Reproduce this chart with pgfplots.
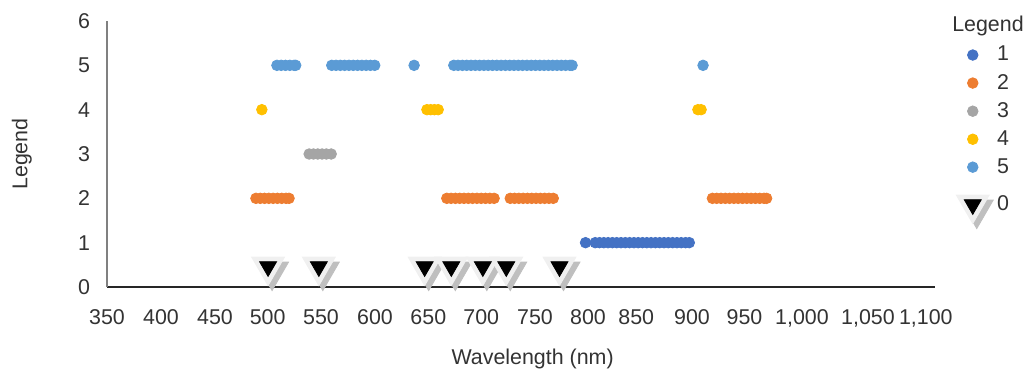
\documentclass[border=0pt]{standalone}
\usepackage{pgfplots}
\pgfplotsset{compat=1.18}
\usepackage{fontspec}
\setmainfont{Liberation Sans}
\definecolor{sA}{HTML}{4472C4}
\definecolor{sB}{HTML}{ED7D31}
\definecolor{sC}{HTML}{A5A5A5}
\definecolor{sD}{HTML}{FFC000}
\definecolor{sE}{HTML}{5B9BD5}
\definecolor{txt}{HTML}{333333}
\begin{document}
\begin{tikzpicture}[font=\fontsize{10.7}{12.8}\selectfont]
\path[use as bounding box] (-53.5pt,-41.5pt) rectangle (459.5pt,143.5pt);
\begin{axis}[
  at={(0,0)}, anchor=south west,
  scale only axis, width=414pt, height=133pt,
  xmin=350, xmax=1120, ymin=0, ymax=6,
  xtick={350,400.2,450.4,499.4,549,599.2,648.8,698,748,797.3,842.2,894,942.8,996.3,1057.7,1111.5},
  xticklabels={350,400,450,500,550,600,650,700,750,800,850,900,950,{1,000},{1,050},{1,100}},
  ytick={0,1,...,6},
  axis x line=bottom, axis y line=left,
  x axis line style={-, black!85, line width=0.6pt},
  y axis line style={-, gray, line width=0.6pt},
  tick style={draw=none}, major tick length=0pt,
  scaled x ticks=false,
  /pgf/number format/assume math mode=true,
  xticklabel style={yshift=-7.5pt, text=txt},
  yticklabel style={xshift=-5pt, text=txt},
  xlabel={Wavelength (nm)}, ylabel={Legend},
  xlabel style={at={(axis description cs:0.514,0)}, anchor=center, yshift=-36pt, text=txt},
  ylabel style={at={(axis description cs:-0.1027,0.5)}, anchor=center, text=txt},
  clip=false,
  legend style={at={(1.018,0.937)}, anchor=north west, draw=none, fill=none,
    row sep=1.1pt, text=txt, font=\fontsize{10.7}{12.8}\selectfont},
  legend cell align=left,
]
% series 1
\addplot[only marks, mark=*, mark size=2.65pt, color=sA] coordinates {
(795,1) (804,1) (808,1) (812,1) (816,1) (820,1) (824,1) (828,1) (832,1) (836,1) (840,1)
(844,1) (848,1) (852,1) (856,1) (860,1) (864,1) (868,1) (872,1) (876,1) (880,1) (884,1)
(888,1) (891.5,1)};
\addlegendentry{1}
% series 2
\addplot[only marks, mark=*, mark size=2.65pt, color=sB] coordinates {
(488.5,2) (492.5,2) (496.5,2) (500.5,2) (504.5,2) (508.5,2) (512.5,2) (516.5,2) (519.3,2)
(666,2) (670,2) (674,2) (678,2) (682,2) (686,2) (690,2) (694,2) (698,2) (702,2) (706,2) (710,2)
(725,2) (729,2) (733,2) (737,2) (741,2) (745,2) (749,2) (753,2) (757,2) (761,2) (765,2)
(913,2) (917,2) (921,2) (925,2) (929,2) (933,2) (937,2) (941,2) (945,2) (949,2) (953,2)
(957,2) (961,2) (963.4,2)};
\addlegendentry{2}
% series 3
\addplot[only marks, mark=*, mark size=2.65pt, color=sC] coordinates {
(538,3) (542,3) (546,3) (550,3) (554,3) (558.5,3)};
\addlegendentry{3}
% series 4
\addplot[only marks, mark=*, mark size=2.65pt, color=sD] coordinates {
(494,4) (647.5,4) (651,4) (654.5,4) (658,4) (899.5,4) (902.5,4)};
\addlegendentry{4}
% series 5
\addplot[only marks, mark=*, mark size=2.65pt, color=sE] coordinates {
(508,5) (512,5) (516,5) (520,5) (524,5) (525.5,5)
(559,5) (563,5) (567,5) (571,5) (575,5) (579,5) (583,5) (587,5) (591,5) (595,5) (599,5)
(635.6,5)
(672.5,5) (676.5,5) (680.5,5) (684.5,5) (688.5,5) (692.5,5) (696.5,5) (700.5,5) (704.5,5)
(708.5,5) (712.5,5) (716.5,5) (720.5,5) (724.5,5) (728.5,5) (732.5,5) (736.5,5) (740.5,5)
(744.5,5) (748.5,5) (752.5,5) (756.5,5) (760.5,5) (764.5,5) (768.5,5) (772.5,5) (776.5,5)
(780.5,5) (782.5,5)
(904.3,5)};
\addlegendentry{5}
% series 0 (triangle picture markers)
\addplot[only marks, mark=triangle*, mark size=9.5pt, color=gray!50, forget plot,
  mark options={xshift=2pt, yshift=-2.5pt, rotate=180}] coordinates {
(499.8,0.46) (547,0.46) (645.4,0.46) (670.2,0.46) (699.5,0.46) (721.3,0.46) (770.8,0.46)};
\addplot[only marks, mark=triangle*, mark size=9.5pt, color=gray!12, forget plot,
  mark options={rotate=180}] coordinates {
(499.8,0.46) (547,0.46) (645.4,0.46) (670.2,0.46) (699.5,0.46) (721.3,0.46) (770.8,0.46)};
\addplot[only marks, mark=triangle*, mark size=4.9pt, color=black,
  mark options={rotate=180},
  legend image code/.code={
    \path (0.3cm,11pt);
    \draw[only marks, mark=triangle*, mark size=9.5pt, color=gray!50,
      mark options={xshift=2pt, yshift=-2.5pt, rotate=180}] plot coordinates {(0.3cm,0cm)};
    \draw[only marks, mark=triangle*, mark size=9.5pt, color=gray!12,
      mark options={rotate=180}] plot coordinates {(0.3cm,0cm)};
    \draw[only marks, mark=triangle*, mark size=4.9pt, color=black,
      mark options={rotate=180}] plot coordinates {(0.3cm,0cm)};
  }] coordinates {
(499.8,0.46) (547,0.46) (645.4,0.46) (670.2,0.46) (699.5,0.46) (721.3,0.46) (770.8,0.46)};
\addlegendentry{0}
\node[text=txt] at (rel axis cs:1.064,0.982) {Legend};
\end{axis}
\end{tikzpicture}
\end{document}
